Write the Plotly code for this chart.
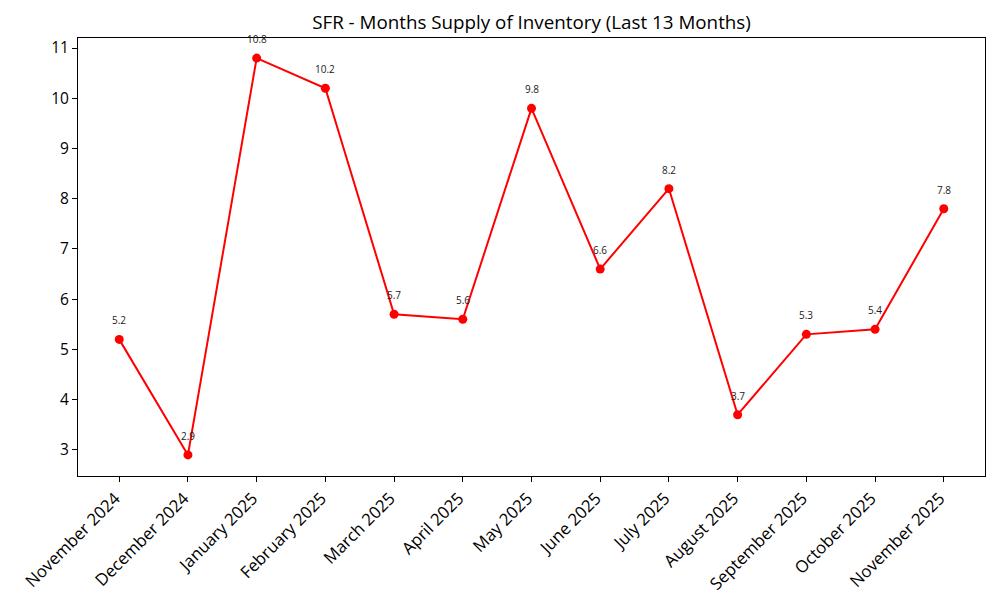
import plotly.graph_objects as go

months = ["November 2024", "December 2024", "January 2025", "February 2025", "March 2025",
          "April 2025", "May 2025", "June 2025", "July 2025", "August 2025",
          "September 2025", "October 2025", "November 2025"]
supply = [5.2, 2.9, 10.8, 10.2, 5.7, 5.6, 9.8, 6.6, 8.2, 3.7, 5.3, 5.4, 7.8]
y_ticks = [3, 4, 5, 6, 7, 8, 9, 10, 11]

FONT = "Open Sans"
xs = list(range(len(months)))

# page body has an 8px default margin; compensate in figure size/margins
W, H = 992, 592

fig = go.Figure()
fig.add_trace(go.Scatter(
    x=xs, y=supply, mode="lines+markers",
    line=dict(color="#ff0000", width=2),
    marker=dict(color="#ff0000", size=9),
    hoverinfo="skip", showlegend=False,
))
for xi, v in zip(xs, supply):
    fig.add_annotation(x=xi, y=v, text=f"{v:g}", showarrow=False,
                       yanchor="bottom", yshift=10,
                       font=dict(family=FONT, size=10, color="#222222"))

fig.update_layout(
    width=W, height=H,
    margin=dict(l=70, r=15, t=30, b=124, autoexpand=False),
    paper_bgcolor="white", plot_bgcolor="white",
    title=dict(text="SFR - Months Supply of Inventory (Last 13 Months)",
               x=0.5, xref="paper", xanchor="center",
               y=1 - 14 / H, yanchor="middle",
               font=dict(family=FONT, size=18.8, color="black")),
    font=dict(family=FONT, size=15, color="black"),
)
fig.update_xaxes(
    range=[-0.6, 12.6], tickmode="array", tickvals=xs, ticktext=months,
    tickangle=-45, showgrid=False, zeroline=False,
    showline=True, linecolor="black", linewidth=1, mirror=True,
    ticks="outside", ticklen=5, tickcolor="black",
    tickfont=dict(family=FONT, size=16.8, color="black"),
    ticklabelshift=-4,
    automargin=False,
)
fig.update_yaxes(
    range=[2.48, 11.2], tickmode="array", tickvals=y_ticks,
    showgrid=False, zeroline=False,
    showline=True, linecolor="black", linewidth=1, mirror=True,
    ticks="outside", ticklen=5, tickcolor="black",
    tickfont=dict(family=FONT, size=15.5, color="black"),
    automargin=False,
)
fig.write_html("out.html")
